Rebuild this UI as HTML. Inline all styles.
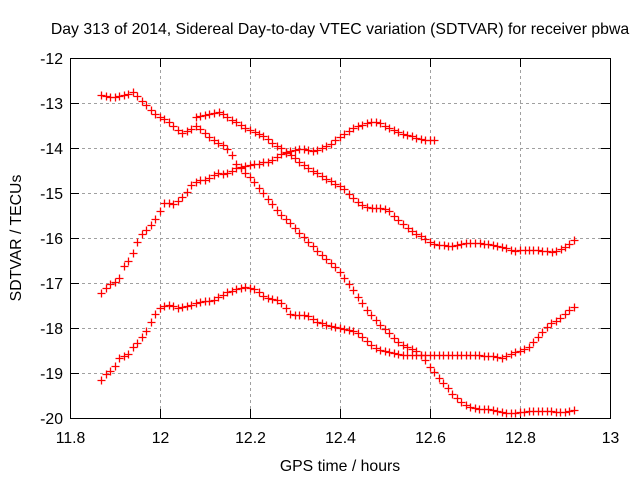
<!DOCTYPE html>
<html><head><meta charset="utf-8"><style>
body{margin:0;background:#fff}
svg{display:block;font-family:"Liberation Sans",sans-serif}
</style></head><body>
<svg id="c" width="640" height="480">
<rect width="640" height="480" fill="#fff"/>
<text x="340" y="34" font-size="15.8" text-anchor="middle">Day 313 of 2014, Sidereal Day-to-day VTEC variation (SDTVAR) for receiver pbwa</text>
<text x="340" y="471" font-size="15.8" text-anchor="middle">GPS time / hours</text>
<text transform="translate(21,238) rotate(-90)" font-size="15.8" text-anchor="middle">SDTVAR / TECUs</text>
<g id="grid"></g><g id="ticks"></g><g id="marks"></g>
<rect x="70.5" y="58.5" width="540" height="360" fill="none" stroke="#000"/>
</svg>
<script>
const xTicks=[11.8,12,12.2,12.4,12.6,12.8,13];
const xTickLabels=["11.8","12","12.2","12.4","12.6","12.8","13"];
const yTicks=[-12,-13,-14,-15,-16,-17,-18,-19,-20];
const yTickLabels=["-12","-13","-14","-15","-16","-17","-18","-19","-20"];
const step=0.01;
const startA=11.87;
const seriesA=[-12.82,-12.85,-12.87,-12.87,-12.84,-12.82,-12.79,-12.76,-12.85,-12.95,-13.05,-13.15,-13.24,-13.3,-13.36,-13.42,-13.5,-13.6,-13.67,-13.62,-13.58,-13.5,-13.58,-13.66,-13.75,-13.83,-13.88,-13.93,-14.03,-14.15,-14.35,-14.45,-14.55,-14.65,-14.76,-14.88,-15.0,-15.13,-15.25,-15.38,-15.48,-15.58,-15.66,-15.77,-15.88,-15.98,-16.08,-16.18,-16.28,-16.38,-16.47,-16.55,-16.65,-16.76,-16.9,-17.02,-17.15,-17.3,-17.45,-17.6,-17.72,-17.83,-17.93,-18.03,-18.12,-18.22,-18.3,-18.37,-18.42,-18.46,-18.5,-18.6,-18.72,-18.87,-18.98,-19.1,-19.22,-19.34,-19.46,-19.56,-19.64,-19.71,-19.76,-19.78,-19.79,-19.8,-19.81,-19.82,-19.84,-19.86,-19.88,-19.89,-19.88,-19.87,-19.86,-19.85,-19.84,-19.84,-19.84,-19.85,-19.85,-19.86,-19.87,-19.86,-19.85,-19.82];
const startB=12.08;
const seriesB=[-13.3,-13.28,-13.27,-13.24,-13.22,-13.21,-13.25,-13.3,-13.37,-13.43,-13.49,-13.55,-13.6,-13.65,-13.7,-13.74,-13.8,-13.88,-13.95,-14.01,-14.08,-14.15,-14.22,-14.3,-14.38,-14.45,-14.5,-14.55,-14.62,-14.68,-14.73,-14.8,-14.85,-14.92,-15.02,-15.12,-15.2,-15.27,-15.32,-15.34,-15.34,-15.33,-15.35,-15.4,-15.5,-15.6,-15.7,-15.78,-15.84,-15.9,-15.96,-16.03,-16.09,-16.13,-16.15,-16.16,-16.17,-16.18,-16.16,-16.14,-16.12,-16.11,-16.11,-16.12,-16.13,-16.14,-16.16,-16.18,-16.2,-16.23,-16.26,-16.28,-16.27,-16.26,-16.27,-16.27,-16.27,-16.28,-16.29,-16.3,-16.28,-16.25,-16.2,-16.13,-16.04];
const startC=11.87;
const seriesC=[-17.22,-17.1,-17.03,-16.97,-16.9,-16.62,-16.5,-16.33,-16.08,-15.92,-15.83,-15.72,-15.58,-15.4,-15.22,-15.22,-15.24,-15.17,-15.08,-14.98,-14.82,-14.76,-14.71,-14.71,-14.66,-14.6,-14.56,-14.57,-14.55,-14.5,-14.44,-14.43,-14.4,-14.38,-14.36,-14.35,-14.32,-14.3,-14.26,-14.21,-14.14,-14.1,-14.06,-14.04,-14.03,-14.03,-14.05,-14.06,-14.04,-14.0,-13.95,-13.9,-13.83,-13.76,-13.7,-13.62,-13.56,-13.52,-13.48,-13.45,-13.43,-13.42,-13.45,-13.5,-13.56,-13.61,-13.65,-13.68,-13.71,-13.74,-13.78,-13.8,-13.82,-13.83,-13.83];
const startD=11.87;
const seriesD=[-19.16,-19.03,-18.95,-18.84,-18.66,-18.62,-18.58,-18.43,-18.33,-18.2,-18.06,-17.87,-17.7,-17.56,-17.5,-17.49,-17.52,-17.55,-17.53,-17.51,-17.48,-17.45,-17.43,-17.41,-17.4,-17.37,-17.32,-17.27,-17.21,-17.17,-17.13,-17.1,-17.09,-17.1,-17.14,-17.2,-17.28,-17.33,-17.36,-17.38,-17.45,-17.55,-17.7,-17.72,-17.71,-17.71,-17.73,-17.8,-17.86,-17.9,-17.93,-17.96,-17.98,-18.0,-18.02,-18.04,-18.06,-18.12,-18.2,-18.28,-18.38,-18.45,-18.49,-18.52,-18.54,-18.56,-18.58,-18.59,-18.6,-18.6,-18.6,-18.6,-18.6,-18.6,-18.59,-18.59,-18.59,-18.6,-18.6,-18.6,-18.6,-18.6,-18.61,-18.6,-18.6,-18.62,-18.62,-18.63,-18.65,-18.67,-18.62,-18.58,-18.54,-18.5,-18.46,-18.42,-18.32,-18.2,-18.08,-17.98,-17.9,-17.84,-17.78,-17.7,-17.6,-17.53];

const NS="http://www.w3.org/2000/svg";
const X=v=>70+(v-11.8)/1.2*540;
const Y=v=>58+(-12-v)/8*360;
function mk(tag,attrs,parent){const e=document.createElementNS(NS,tag);for(const k in attrs)e.setAttribute(k,attrs[k]);parent.appendChild(e);return e;}
const grid=document.getElementById('grid'),ticks=document.getElementById('ticks'),marks=document.getElementById('marks');
xTicks.forEach((t,i)=>{
  const x=Math.round(X(t))+0.5;
  if(i>0&&i<xTicks.length-1){const g=mk('line',{x1:x,x2:x,y1:58,y2:418,stroke:'#a0a0a0','stroke-dasharray':'3,3'},grid);
  
  }
  mk('line',{x1:x,x2:x,y1:418,y2:409,stroke:'#000'},ticks);
  mk('line',{x1:x,x2:x,y1:58,y2:67,stroke:'#000'},ticks);
  const l=mk('text',{x:x,y:443,'font-size':15.8,'text-anchor':'middle'},ticks);l.textContent=xTickLabels[i];
  
  
});
yTicks.forEach((t,i)=>{
  const y=Math.round(Y(t))+0.5;
  if(i>0&&i<yTicks.length-1){const g=mk('line',{x1:70,x2:610,y1:y,y2:y,stroke:'#a0a0a0','stroke-dasharray':'3,3'},grid);
  
  }
  mk('line',{x1:70,x2:79,y1:y,y2:y,stroke:'#000'},ticks);
  mk('line',{x1:610,x2:601,y1:y,y2:y,stroke:'#000'},ticks);
  const l=mk('text',{x:63,y:y+5.5,'font-size':15.8,'text-anchor':'end'},ticks);l.textContent=yTickLabels[i];
  
  
});
function drawSeries(start,vals,name){
  const g=mk('g',{stroke:'#ff0000','stroke-width':1.3},marks);
  
  
  vals.forEach((v,i)=>{
    const x=Math.round(X(start+i*step))+0.5,y=Math.round(Y(v))+0.5;
    const p=mk('path',{d:`M${x-4},${y}H${x+4}M${x},${y-4}V${y+4}`},g);
    
    
  });
}
drawSeries(startA,seriesA,'series-a');
drawSeries(startB,seriesB,'series-b');
drawSeries(startC,seriesC,'series-c');
drawSeries(startD,seriesD,'series-d');
</script>
</body></html>
